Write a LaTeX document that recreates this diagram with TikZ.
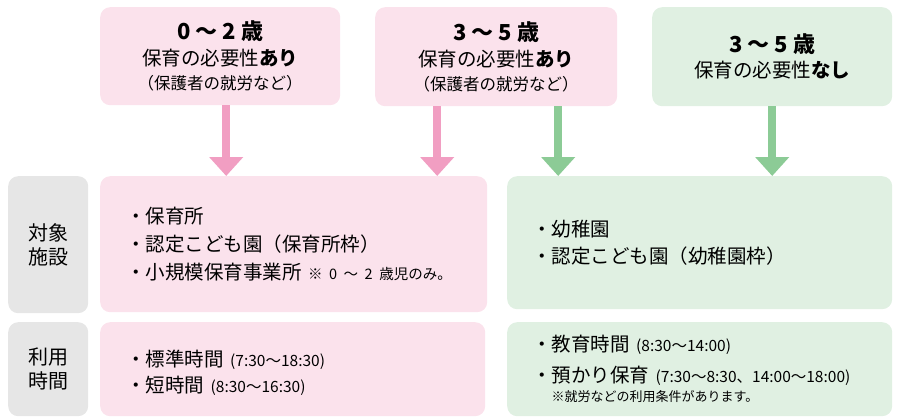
\documentclass[tikz,border=0pt]{standalone}
\usepackage{fontspec}
\setmainfont{Noto Sans CJK JP}
\usepackage{tikz}
\usetikzlibrary{arrows.meta}
\definecolor{PinkFill}{HTML}{FBE2EC}
\definecolor{PinkArrow}{HTML}{F19EC2}
\definecolor{GreenFill}{HTML}{E0F0E2}
\definecolor{GreenArrow}{HTML}{8CCB96}
\definecolor{GrayFill}{HTML}{E6E6E6}
\tikzset{
  box/.style={rounded corners=10pt, anchor=north west, inner sep=0pt},
  agebox/.style={box, align=center, font=\fontsize{19.5}{26}\selectfont},
  listbox/.style={box, align=left, inner xsep=26pt, font=\fontsize{19.5}{28}\selectfont},
  labelbox/.style={box, fill=GrayFill, align=center, minimum width=80pt,
    font=\fontsize{20}{24}\selectfont},
  flow/.style={line width=8pt, -{Triangle[width=33pt,length=19pt]}},
}
\newcommand{\note}[2][13]{{\fontsize{#1}{16}\selectfont #2}}
\newcommand{\hrs}[1]{{\fontsize{15.5}{16}\selectfont #1}}

\begin{document}
\begin{tikzpicture}[x=1pt, y=-1pt]
  \useasboundingbox (0, 0) rectangle (906, 420);

  % age groups
  \node[agebox, fill=PinkFill, minimum width=240pt, minimum height=98pt] (age02) at (100, 7)
    {{\fontsize{22}{26}\selectfont\bfseries 0 ～ 2 歳}\\
     保育の必要性\textbf{あり}\\[-2pt]
     {\fontsize{16.5}{20}\selectfont （保護者の就労など）}};
  \node[agebox, fill=PinkFill, minimum width=242pt, minimum height=99pt] (age35need) at (375, 7)
    {{\fontsize{22}{26}\selectfont\bfseries 3 ～ 5 歳}\\
     保育の必要性\textbf{あり}\\[-2pt]
     {\fontsize{16.5}{20}\selectfont （保護者の就労など）}};
  \node[agebox, fill=GreenFill, minimum width=240pt, minimum height=99pt] (age35none) at (652, 7)
    {{\fontsize{22}{26}\selectfont\bfseries 3 ～ 5 歳}\\[-1pt]
     保育の必要性\textbf{なし}};

  % row labels
  \node[labelbox, minimum height=137pt] (facility) at (8, 176) {対象\\施設};
  \node[labelbox, minimum height=94pt] (hours) at (8, 322) {利用\\時間};

  % facilities
  \node[listbox, fill=PinkFill, text width=335pt, minimum height=136pt] (facilityPink) at (100, 176)
    {・保育所\\
     ・認定こども園（保育所枠）\\
     ・小規模保育事業所 \note[14.5]{※ 0 ～ 2 歳児のみ。}};
  \node[listbox, fill=GreenFill, inner xsep=25pt, text width=335pt, minimum height=133pt,
    font=\fontsize{19.5}{27}\selectfont] (facilityGreen) at (507, 176)
    {・幼稚園\\
     ・認定こども園（幼稚園枠）};

  % hours
  \node[listbox, fill=PinkFill, text width=333pt, minimum height=94pt,
    font=\fontsize{19.5}{26}\selectfont] (hoursPink) at (100, 322)
    {\rule{0pt}{24pt}・標準時間 \hrs{(7:30～18:30)}\\
     ・短時間 \hrs{(8:30～16:30)}};
  \node[listbox, fill=GreenFill, inner xsep=25pt, text width=335pt, minimum height=94pt,
    font=\fontsize{19.5}{27}\selectfont] (hoursGreen) at (507, 322)
    {・教育時間 \hrs{(8:30～14:00)}\\[4pt]
     ・預かり保育 \hrs{(7:30～8:30、14:00～18:00)}\\[-8pt]
     \phantom{・}\note{※就労などの利用条件があります。}};

  % arrows
  \draw[flow, PinkArrow] ([xshift=6pt]age02.south) -- ([xshift=6pt]age02.south |- facilityPink.north);
  \draw[flow, PinkArrow] ([xshift=-59pt]age35need.south) -- ([xshift=-59pt]age35need.south |- facilityPink.north);
  \draw[flow, GreenArrow] ([xshift=62pt]age35need.south) -- ([xshift=62pt]age35need.south |- facilityGreen.north);
  \draw[flow, GreenArrow] (age35none.south) -- (age35none.south |- facilityGreen.north);
\end{tikzpicture}
\end{document}
